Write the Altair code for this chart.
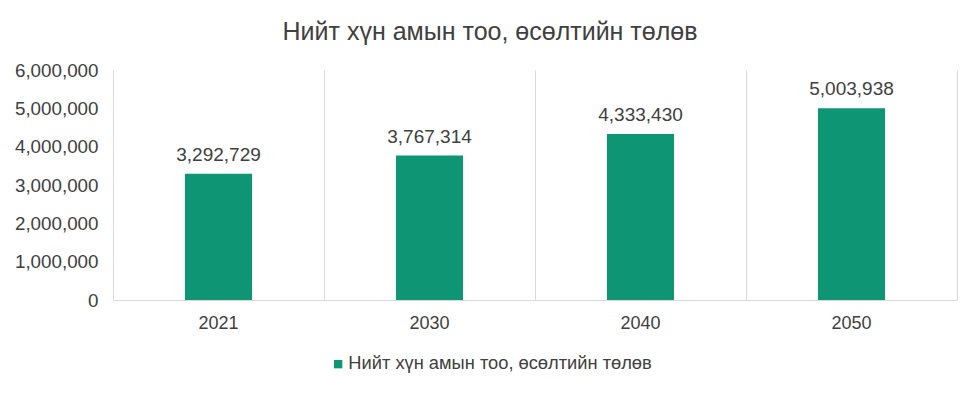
import altair as alt
import pandas as pd

years = ["2021", "2030", "2040", "2050"]
values = [3292729, 3767314, 4333430, 5003938]
series_name = "Нийт хүн амын тоо, өсөлтийн төлөв"
title_text = "Нийт хүн амын тоо, өсөлтийн төлөв"
y_ticks = [0, 1000000, 2000000, 3000000, 4000000, 5000000, 6000000]

df = pd.DataFrame({"year": years, "value": values, "series": [series_name] * len(years)})

FONT = "Liberation Sans"
TXT = "#404040"
GRID = "#d9d9d9"
GREEN = "#0d9574"

x = alt.X("year:N", sort=years, title=None,
          scale=alt.Scale(paddingInner=0, paddingOuter=0),
          axis=alt.Axis(labelAngle=0, labelFontSize=18, labelColor=TXT, labelFont=FONT,
                        ticks=False, labelPadding=14, domainColor=GRID, domainWidth=1,
                        grid=True, gridColor=GRID, bandPosition=1))
y = alt.Y("value:Q", title=None,
          scale=alt.Scale(domain=[0, 6000000], nice=False),
          axis=alt.Axis(values=y_ticks, format=",d", labelFontSize=18.8, labelColor=TXT,
                        labelFont=FONT, ticks=False, labelPadding=15, grid=False,
                        labelOverlap=False, labelFlush=False,
                        domainColor=GRID, domainWidth=1))

base = alt.Chart(df).encode(x=x, y=y)

bars = base.mark_bar(width=alt.RelativeBandSize(0.318)).encode(
    color=alt.Color("series:N", title=None,
                    scale=alt.Scale(domain=[series_name], range=[GREEN]),
                    legend=alt.Legend(orient="none", legendX=216, legendY=285,
                                      symbolType="square", symbolSize=70,
                                      symbolStrokeWidth=0, labelFontSize=18.3,
                                      labelLimit=500,
                                      labelColor=TXT, labelFont=FONT, labelOffset=1))
)

labels = base.mark_text(baseline="bottom", dy=-9, fontSize=19, color=TXT, font=FONT).encode(
    text=alt.Text("value:Q", format=",d")
)

chart = alt.layer(bars, labels).properties(
    width=844, height=230,
    title=alt.TitleParams(title_text, fontSize=25, color=TXT, font=FONT, fontWeight="normal",
                          anchor="middle", dx=-45, offset=16),
    autosize=alt.AutoSizeParams(type="none"),
    padding={"left": 105, "top": 62, "right": 14, "bottom": 85},
).configure_view(stroke=None)

chart.save("out.html", embed_options={"renderer": "svg", "actions": False})
